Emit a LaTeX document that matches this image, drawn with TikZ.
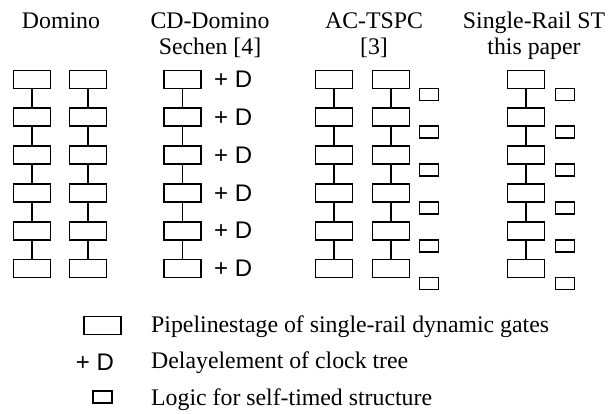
\documentclass[tikz,border=0pt]{standalone}
\usepackage{fontspec}
\setmainfont{Liberation Serif}
\setsansfont{Liberation Sans}
\usetikzlibrary{positioning}

\begin{document}
\begin{tikzpicture}[x=1pt, y=-1pt, font=\fontsize{23.8}{27}\selectfont,
  stage/.style={draw, line width=1.8pt, minimum width=37pt, minimum height=18pt, inner sep=0pt},
  logic/.style={draw, line width=1.8pt, minimum width=19pt, minimum height=12pt, inner sep=0pt},
  delay/.style={font=\sffamily\fontsize{24}{24}\selectfont, inner sep=0pt},
  head/.style={anchor=base, inner sep=0pt},
  key/.style={anchor=base west, inner sep=0pt},
  wire/.style={line width=1.8pt}
]
  \useasboundingbox (0,0) rectangle (613,413);

  % headings
  \node[head] (hdom) at (61,28.5) {Domino};
  \node[head] (hcd) at (210,28.5) {CD-Domino};
  \node[head] (hcdref) at (210,54) {Sechen [4]};
  \node[head] (hac) at (374,28.5) {AC-TSPC};
  \node[head] (hacref) at (374,54) {[3]};
  \node[head] (hsr) at (534,28.5) {Single-Rail ST};
  \node[head] (hsrref) at (534,54) {this paper};

  % pipeline columns
  \foreach \c/\x in {da/32, db/88, cd/182.5, aa/334, ab/391, sr/526} {
    \foreach \i in {1,...,6}
      \node[stage] (\c\i) at (\x,{79.5+37.8*(\i-1)}) {};
    \foreach \i [count=\j from 2] in {1,...,5}
      \draw[wire] (\c\i) -- (\c\j);
  }

  % delay elements and self-timed logic
  \foreach \i in {1,...,6} {
    \node[delay, right=12pt of cd\i] (dl\i) {+ D};
    \node[logic] (la\i) at (429,{94.5+37.8*(\i-1)}) {};
    \node[logic] (ls\i) at (565,{94.5+37.8*(\i-1)}) {};
  }

  % legend
  \node[stage] (kstage) at (102.5,325.5) {};
  \node[key] (tstage) at (151,332) {Pipelinestage of single-rail dynamic gates};
  \node[delay] (kdelay) at (95,362.5) {+ D};
  \node[key] (tdelay) at (151,368.5) {Delayelement of clock tree};
  \node[logic] (klogic) at (102.5,397) {};
  \node[key] (tlogic) at (151,405) {Logic for self-timed structure};
\end{tikzpicture}
\end{document}
